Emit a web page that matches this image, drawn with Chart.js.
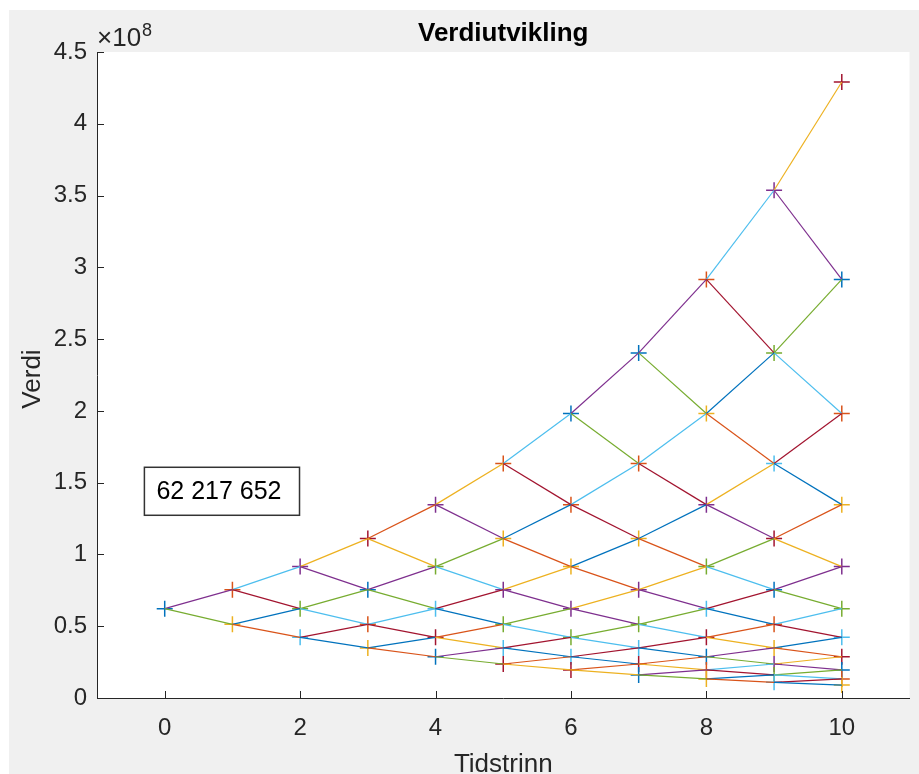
<!DOCTYPE html>
<html>
<head>
<meta charset="utf-8">
<script src="https://cdn.jsdelivr.net/npm/chart.js@4.4.1/dist/chart.umd.min.js"></script>
<style>
html, body { margin: 0; padding: 0; background: #fff; overflow: hidden; }
canvas { display: block; }
</style>
</head>
<body>
<canvas id="chart" width="919" height="774"></canvas>
<script>
// Binomialtre: verdier i hver node per tidstrinn, øverste node først
const tidstrinn = [0, 1, 2, 3, 4, 5, 6, 7, 8, 9, 10];
const t0 = [62217652];
const t1 = [75470000, 51290000];
const t2 = [91550000, 62217652, 42290000];
const t3 = [111050000, 75470000, 51290000, 34860000];
const t4 = [134700000, 91550000, 62217652, 42290000, 28740000];
const t5 = [163400000, 111050000, 75470000, 51290000, 34860000, 23690000];
const t6 = [198200000, 134700000, 91550000, 62217652, 42290000, 28740000, 19530000];
const t7 = [240400000, 163400000, 111050000, 75470000, 51290000, 34860000, 23690000, 16100000];
const t8 = [291600000, 198200000, 134700000, 91550000, 62217652, 42290000, 28740000, 19530000, 13270000];
const t9 = [353700000, 240400000, 163400000, 111050000, 75470000, 51290000, 34860000, 23690000, 16100000, 10940000];
const t10 = [429100000, 291600000, 198200000, 134700000, 91550000, 62217652, 42290000, 28740000, 19530000, 13270000, 9020000];
const verdier = [t0, t1, t2, t3, t4, t5, t6, t7, t8, t9, t10];

const xTicks = [0, 2, 4, 6, 8, 10];
const yTicks = [0, 0.5e8, 1e8, 1.5e8, 2e8, 2.5e8, 3e8, 3.5e8, 4e8, 4.5e8];
const startTekst = '62 217 652';
const tekstPos = { x: -0.3, y: 1.44e8 };

// MATLAB standard fargerekkefølge
const farger = ['#0072BD', '#D95319', '#EDB120', '#7E2F8E', '#77AC30', '#4DBEEE', '#A2142F'];
const AKSE = '#262626';
const FONT = '"Liberation Sans", Arial, Helvetica, sans-serif';

// Markører først (ett plot per node), deretter linjestykkene
let plotNr = 0;
const punkter = [];
const punktFarger = [];
tidstrinn.forEach(t => {
    verdier[t].forEach(v => {
        punkter.push({ x: t, y: v });
        punktFarger.push(farger[plotNr % 7]);
        plotNr++;
    });
});

const datasets = [{
    data: punkter,
    showLine: false,
    pointStyle: 'cross',
    pointRadius: 8,
    pointBorderWidth: 1.5,
    pointBorderColor: punktFarger,
    pointBackgroundColor: punktFarger,
    order: 1
}];

let segNr = 0;
tidstrinn.slice(0, -1).forEach(t => {
    verdier[t].forEach((v, j) => {
        [verdier[t + 1][j], verdier[t + 1][j + 1]].forEach(v2 => {
            datasets.push({
                data: [{ x: t, y: v }, { x: t + 1, y: v2 }],
                showLine: true,
                borderColor: farger[plotNr % 7],
                borderWidth: 1.2,
                pointRadius: 0,
                fill: false,
                order: -segNr
            });
            plotNr++;
            segNr++;
        });
    });
});

const figurPlugin = {
    id: 'figur',
    beforeDraw(chart) {
        const ctx = chart.ctx;
        const a = chart.chartArea;
        ctx.save();
        ctx.fillStyle = '#ffffff';
        ctx.fillRect(0, 0, chart.width, chart.height);
        ctx.fillStyle = '#f0f0f0';
        ctx.fillRect(9, 10, chart.width - 9, chart.height - 10);
        ctx.fillStyle = '#ffffff';
        ctx.fillRect(a.left, a.top, a.right - a.left, a.bottom - a.top);
        ctx.restore();
    },
    afterDraw(chart) {
        const ctx = chart.ctx;
        const a = chart.chartArea;
        const xs = chart.scales.x, ys = chart.scales.y;
        ctx.save();
        // tick-merker innover
        ctx.strokeStyle = AKSE;
        ctx.lineWidth = 1;
        ctx.beginPath();
        xTicks.forEach(v => {
            const px = Math.round(xs.getPixelForValue(v)) + 0.5;
            ctx.moveTo(px, a.bottom);
            ctx.lineTo(px, a.bottom - 7);
        });
        yTicks.forEach(v => {
            const py = Math.round(ys.getPixelForValue(v)) + 0.5;
            ctx.moveTo(a.left, py);
            ctx.lineTo(a.left + 7, py);
        });
        ctx.stroke();

        // tittel
        ctx.fillStyle = '#000';
        ctx.font = 'bold 26px ' + FONT;
        ctx.textAlign = 'center';
        ctx.textBaseline = 'alphabetic';
        ctx.fillText('Verdiutvikling', (a.left + a.right) / 2, 41);

        // aksetitler
        ctx.fillStyle = AKSE;
        ctx.font = '26px ' + FONT;
        ctx.fillText('Tidstrinn', (a.left + a.right) / 2, 772);
        ctx.save();
        ctx.translate(40, (a.top + a.bottom) / 2 + 4);
        ctx.rotate(-Math.PI / 2);
        ctx.fillText('Verdi', 0, 0);
        ctx.restore();

        // eksponent
        ctx.textAlign = 'left';
        ctx.font = '26px ' + FONT;
        ctx.fillText('\u00d710', a.left, 46);
        const w = ctx.measureText('\u00d710').width;
        ctx.font = '18px ' + FONT;
        ctx.fillText('8', a.left + w + 1, 36);

        // tekstboks med startverdi
        ctx.font = '25px ' + FONT;
        const bx = xs.getPixelForValue(tekstPos.x);
        const by = ys.getPixelForValue(tekstPos.y);
        const tw = ctx.measureText(startTekst).width;
        ctx.fillStyle = '#fff';
        ctx.fillRect(bx, by - 24, tw + 30, 48);
        ctx.strokeStyle = '#333';
        ctx.lineWidth = 1.5;
        ctx.strokeRect(bx, by - 24, tw + 30, 48);
        ctx.fillStyle = '#000';
        ctx.textBaseline = 'middle';
        ctx.fillText(startTekst, bx + 12, by + 1);
        ctx.restore();
    }
};

new Chart(document.getElementById('chart'), {
    type: 'scatter',
    data: { datasets },
    options: {
        responsive: false,
        devicePixelRatio: 1,
        animation: false,
        events: [],
        layout: { padding: { top: 52, right: 5, left: 0, bottom: 0 } },
        plugins: { legend: { display: false }, tooltip: { enabled: false }, title: { display: false } },
        scales: {
            x: {
                type: 'linear',
                min: -1,
                max: 11,
                afterBuildTicks: s => { s.ticks = xTicks.map(v => ({ value: v })); },
                afterFit: s => { s.height = 76; },
                grid: { display: true, drawOnChartArea: false, drawTicks: false },
                border: { display: true, color: AKSE, width: 1 },
                ticks: { color: AKSE, font: { family: FONT, size: 24 }, padding: 16, maxRotation: 0, callback: v => String(v) }
            },
            y: {
                type: 'linear',
                min: 0,
                max: 4.5e8,
                afterBuildTicks: s => { s.ticks = yTicks.map(v => ({ value: v })); },
                afterFit: s => { s.width = 97; },
                grid: { display: true, drawOnChartArea: false, drawTicks: false },
                border: { display: true, color: AKSE, width: 1 },
                ticks: { color: AKSE, font: { family: FONT, size: 24 }, padding: 10, callback: v => String(v / 1e8) }
            }
        }
    },
    plugins: [figurPlugin]
});
</script>
</body>
</html>
